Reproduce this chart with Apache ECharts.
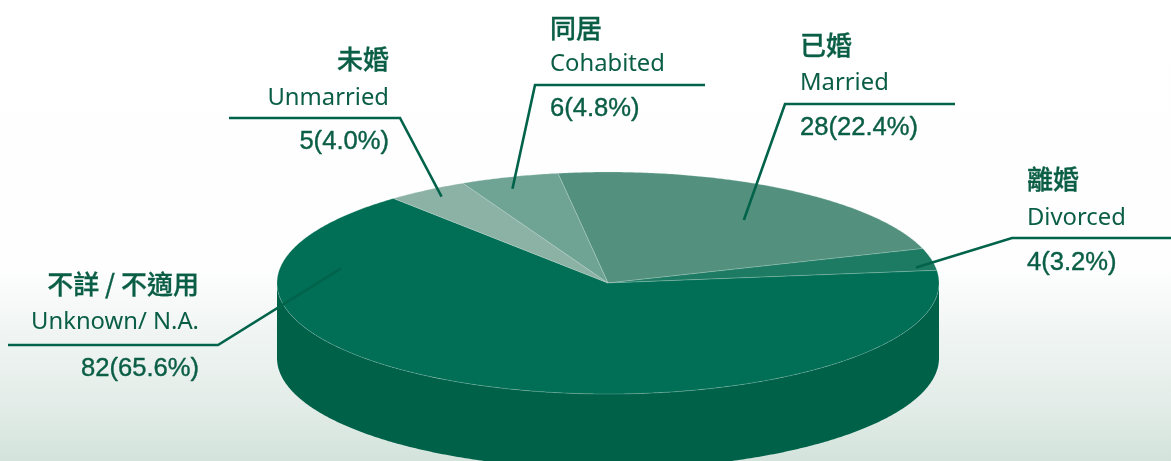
<!DOCTYPE html>
<html>
<head>
<meta charset="utf-8">
<style>html,body{margin:0;padding:0;background:#fff}#c{width:1171px;height:461px}</style>
<script src="https://cdn.jsdelivr.net/npm/echarts@6/dist/echarts.min.js"></script>
</head>
<body>
<div id="c"></div>
<script>
// Data, clockwise from the first slice
const categoriesZh = ['已婚', '離婚', '不詳 / 不適用', '未婚', '同居'];
const categoriesEn = ['Married', 'Divorced', 'Unknown/ N.A.', 'Unmarried', 'Cohabited'];
const counts = [28, 4, 82, 5, 6];
const percents = ['22.4', '3.2', '65.6', '4.0', '4.8'];

// Styling and layout
const sliceColors = ['#53917E', '#1C7B62', '#006F55', '#8CB2A5', '#6FA393'];
const wallColor = '#006149';
const inkColor = '#0B5E46';
const lineColor = '#02634B';
const pie = { cx: 608, cy: 283, rx: 331, ry: 111, depth: 75, startDeg: -8.7 };
// position inside the slice: t along the sweep, r along the radius
const anchors = [[0.553, 0.70], [0.826, 0.941], [0.829, 0.817], [0.52, 0.926], [0.416, 0.896]];
const elbows = [[785, 104], [1012, 238], [218, 345], [400, 118], [535, 85]];
const lineEnds = [[955, 104], [1171, 238], [8, 345], [229, 118], [705, 85]];
const labelX = [800, 1027, 199, 389, 550];
const labelAlign = ['left', 'left', 'right', 'right', 'left'];
const labelY = [[45, 83, 128], [179, 218, 263], [284, 322, 369], [59, 98, 142], [28, 64, 109]];

const total = counts.reduce((a, b) => a + b, 0);
const pt = (deg, r, dy) => {
  const a = deg * Math.PI / 180;
  return [pie.cx + pie.rx * r * Math.sin(a), pie.cy - pie.ry * r * Math.cos(a) + (dy || 0)];
};
const arc = (a, b, dy) => {
  const out = [], n = Math.max(2, Math.ceil(Math.abs(b - a) * 2));
  for (let i = 0; i <= n; i++) out.push(pt(a + (b - a) * i / n, 1, dy));
  return out;
};

function renderItem(params, api) {
  const i = params.dataIndex;
  let before = 0;
  for (let k = 0; k < i; k++) before += counts[k];
  const a0 = pie.startDeg + before / total * 360;
  const a1 = a0 + api.value(1) / total * 360;
  const children = [];

  // visible wall: the part of the slice facing the viewer (90..270 deg)
  const w0 = Math.max(a0, 90), w1 = Math.min(a1, 270);
  if (w1 > w0) {
    const top = arc(w0, w1, 0);
    const bottom = arc(w0, w1, pie.depth).reverse();
    children.push({ type: 'polygon', z2: 1, shape: { points: top.concat(bottom) },
      style: { fill: wallColor } });
  }
  // top face
  children.push({ type: 'polygon', z2: 2, shape: { points: [[pie.cx, pie.cy]].concat(arc(a0, a1, 0)) },
    style: { fill: sliceColors[i], stroke: 'rgba(215,235,228,0.4)', lineWidth: 0.6, lineJoin: 'round' } });

  // leader line
  const anchor = pt(a0 + (a1 - a0) * anchors[i][0], anchors[i][1]);
  children.push({ type: 'polyline', z2: 5, shape: { points: [anchor, elbows[i], lineEnds[i]] },
    style: { fill: null, stroke: lineColor, lineWidth: 2.6 } });

  // labels
  const texts = [
    [categoriesZh[i], 'Noto Sans CJK TC', 26, 500, 0.3],
    [categoriesEn[i], 'Noto Sans', 23.8, 400, 0],
    [counts[i] + '(' + percents[i] + '%)', 'Liberation Sans', 25.6, 400, 0.4]
  ];
  texts.forEach((t, k) => children.push({ type: 'text', z2: 6, x: labelX[i], y: labelY[i][k],
    style: { text: t[0], fontFamily: t[1], fontSize: t[2], fontWeight: t[3], fill: inkColor,
      stroke: t[4] ? inkColor : null, lineWidth: t[4], align: labelAlign[i], verticalAlign: 'middle' } }));

  return { type: 'group', children };
}

const chart = echarts.init(document.getElementById('c'), null, { renderer: 'canvas' });
chart.setOption({
  animation: false,
  backgroundColor: {
    type: 'linear', x: 0, y: 0, x2: 0, y2: 1,
    colorStops: [
      { offset: 0, color: '#ffffff' },
      { offset: 0.58, color: '#fefefe' },
      { offset: 0.72, color: '#f0f5f3' },
      { offset: 0.88, color: '#e3ece8' },
      { offset: 1, color: '#d3e3dc' }
    ]
  },
  series: [{
    type: 'custom',
    coordinateSystem: 'none',
    renderItem,
    silent: true,
    data: counts.map((c, i) => [i, c])
  }]
});
</script>
</body>
</html>
